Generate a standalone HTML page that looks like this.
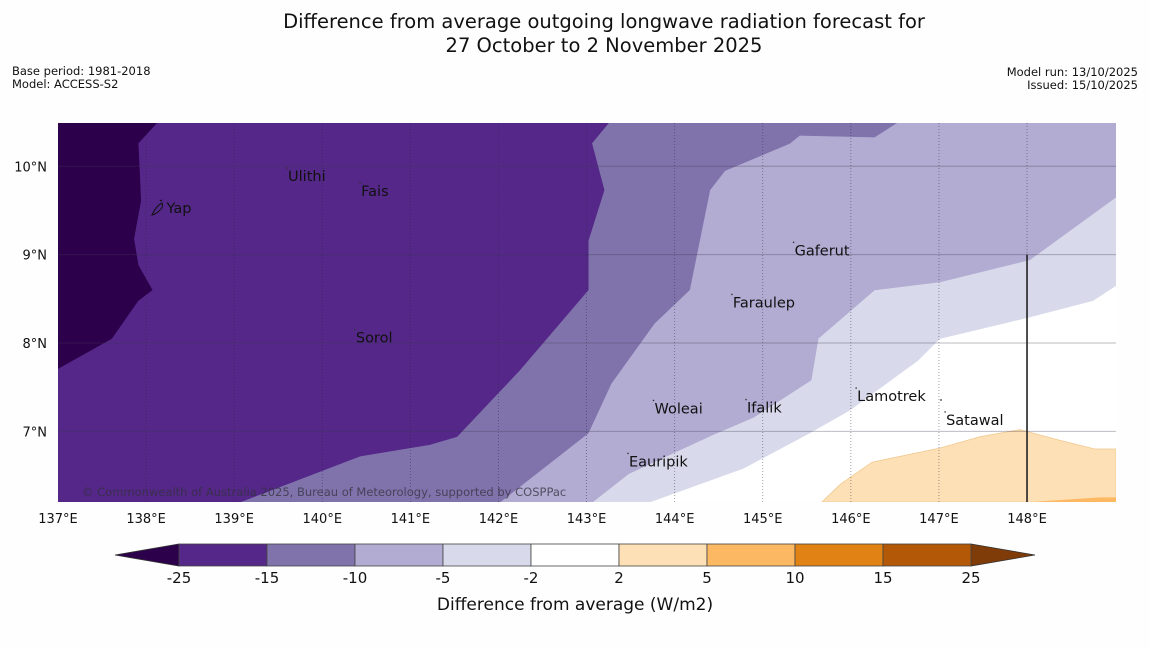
<!DOCTYPE html>
<html><head><meta charset="utf-8">
<style>
body{margin:0;background:#fefefe;width:1150px;height:644px;overflow:hidden;font-family:"Liberation Sans","DejaVu Sans",sans-serif;}
svg text{font-family:"DejaVu Sans","Liberation Sans",sans-serif;}
</style></head>
<body>
<svg id="chart" width="1150" height="644" viewBox="0 0 1150 644" xmlns="http://www.w3.org/2000/svg">
<text x="604" y="28" font-size="19.5" text-anchor="middle" fill="#111">Difference from average outgoing longwave radiation forecast for</text>
<text x="604" y="52" font-size="19.5" text-anchor="middle" fill="#111">27 October to 2 November 2025</text>
<text x="12" y="75" font-size="11.5" fill="#111">Base period: 1981-2018</text>
<text x="12" y="88" font-size="11.5" fill="#111">Model: ACCESS-S2</text>
<text x="1138" y="76" font-size="11.5" text-anchor="end" fill="#111">Model run: 13/10/2025</text>
<text x="1138" y="89" font-size="11.5" text-anchor="end" fill="#111">Issued: 15/10/2025</text>
<g id="map"></g>
<g id="cbar"></g>
<text x="575" y="610" font-size="17" text-anchor="middle" fill="#111">Difference from average (W/m2)</text>
</svg>
<script>
const lonTicks=[137,138,139,140,141,142,143,144,145,146,147,148];
const latTicks=[7,8,9,10];
const levelLabels=["-25","-15","-10","-5","-2","2","5","10","15","25"];
const levelColors=["#542788","#8073ac","#b2abd2","#d8daeb","#ffffff","#fee0b6","#fdb863","#e08214","#b35806"];
const lowTipColor="#2d004b", highTipColor="#7f3b08";
// contour regions in lon/lat
const regionM2=[[137,10.49],[149.01,10.49],[149.01,8.65],[148.75,8.48],[147.98,8.28],[147.01,8.05],[146.76,7.80],[145.99,7.24],[145.55,6.99],[144.78,6.58],[143.72,6.2],[137,6.2]];
const regionM5=[[137,10.49],[149.01,10.49],[149.01,9.65],[148.03,8.94],[147.01,8.69],[146.27,8.60],[145.63,8.05],[145.55,7.58],[144.90,7.16],[144.41,6.95],[143.48,6.52],[143.07,6.2],[137,6.2]];
const regionM10=[[137,10.49],[146.52,10.49],[146.27,10.33],[145.42,10.35],[145.31,10.26],[144.57,9.95],[144.40,9.73],[144.17,8.60],[143.77,8.22],[143.28,7.54],[143.02,6.98],[142.70,6.73],[142.02,6.2],[137,6.2]];
const regionM15=[[137,10.49],[143.25,10.49],[143.06,10.26],[143.20,9.73],[143.02,9.16],[143.02,8.60],[142.24,7.69],[141.53,6.94],[141.22,6.85],[140.43,6.72],[139.07,6.2],[137,6.2]];
const regionM25=[[137,10.49],[138.12,10.49],[137.91,10.26],[137.94,9.61],[137.86,9.18],[137.91,8.88],[138.07,8.60],[137.91,8.48],[137.61,8.05],[137,7.71]];
const regionP2=[[145.67,6.2],[145.88,6.40],[146.24,6.65],[147.01,6.81],[147.47,6.94],[147.92,7.02],[148.37,6.90],[148.77,6.80],[149.01,6.80],[149.01,6.2]];
const regionP5=[[148.09,6.2],[148.83,6.25],[149.01,6.25],[149.01,6.2]];
const islandNames=["Yap","Ulithi","Fais","Gaferut","Faraulep","Sorol","Woleai","Ifalik","Lamotrek","Satawal","Eauripik"];
const islandLon=[138.22,139.60,140.43,145.35,144.65,140.37,143.76,144.81,146.06,147.07,143.47];
const islandLat=[9.62,9.98,9.81,9.14,8.55,8.15,7.35,7.36,7.49,7.22,6.75];

const NS="http://www.w3.org/2000/svg";
const X0=58,X1=1116,Y0=123,Y1=502;
const LON0=137,LON1=149.01,LAT0=6.2,LAT1=10.49;
function xs(lon){return X0+(lon-LON0)/(LON1-LON0)*(X1-X0);}
function ys(lat){return Y1-(lat-LAT0)/(LAT1-LAT0)*(Y1-Y0);}
function mk(tag,attrs,parent){const e=document.createElementNS(NS,tag);for(const k in attrs)e.setAttribute(k,attrs[k]);parent.appendChild(e);return e;}
const map=document.getElementById('map');
const cl=mk('clipPath',{id:'clip'},map);mk('rect',{x:X0,y:Y0,width:X1-X0,height:Y1-Y0},cl);
const g=mk('g',{'clip-path':'url(#clip)'},map);
const bg=mk('rect',{x:X0,y:Y0,width:X1-X0,height:Y1-Y0,fill:'#ffffff'},g);


function poly(pts,fill,name,stroke){
  const p=mk('polygon',{points:pts.map(q=>xs(q[0]).toFixed(1)+','+ys(q[1]).toFixed(1)).join(' '),fill:fill,stroke:stroke||fill,'stroke-width':stroke?0.8:0.5},g);
  
  
}
poly(regionM2,levelColors[3],'region-minus2-to-minus5');
poly(regionM5,levelColors[2],'region-minus5-to-minus10');
poly(regionM10,levelColors[1],'region-minus10-to-minus15');
poly(regionM15,levelColors[0],'region-minus15-to-minus25');
poly(regionM25,lowTipColor,'region-below-minus25');
poly(regionP2,levelColors[5],'region-plus2-to-plus5','#f0c890');
poly(regionP5,levelColors[6],'region-plus5-to-plus10');
// gridlines
lonTicks.slice(1).forEach(l=>{
  const ln=mk('line',{x1:xs(l),x2:xs(l),y1:Y0,y2:Y1,stroke:'rgba(40,40,60,0.55)','stroke-width':0.8,'stroke-dasharray':'1,2'},g);
  
  
});
latTicks.forEach(l=>{
  const ln=mk('line',{x1:X0,x2:X1,y1:ys(l),y2:ys(l),stroke:'rgba(60,60,80,0.35)','stroke-width':1},g);
  
  
});
const vline=mk('line',{x1:xs(148),x2:xs(148),y1:ys(9),y2:Y1,stroke:'#222','stroke-width':1.6},g);


// Yap island shape
const yap=mk('path',{d:'M152,215 q4,-9 10,-12 q2,4 -3,8 q-3,3 -7,4z M160,201 l2,-1',fill:'none',stroke:'#111','stroke-width':1},g);


islandNames.forEach((n,i)=>{
  if(i>0){
    const d=mk('circle',{cx:xs(islandLon[i]),cy:ys(islandLat[i]),r:0.8,fill:'#333'},g);
    
    
  }
  const t=mk('text',{x:xs(islandLon[i])+1,y:ys(islandLat[i])+13,'font-size':14.5,fill:'#111'},g);
  t.textContent=n;
  
  
});
const dotL=mk('circle',{cx:941,cy:400,r:0.9,fill:'#333'},g);


const cp=mk('text',{x:82,y:496,'font-size':11.5,fill:'rgba(50,50,60,0.75)'},g);
cp.textContent='© Commonwealth of Australia 2025, Bureau of Meteorology, supported by COSPPac';


// tick labels
lonTicks.forEach(l=>{
  const t=mk('text',{x:xs(l),y:523,'font-size':13,'text-anchor':'middle',fill:'#111'},map);
  t.textContent=l+'°E';
  
  
});
latTicks.forEach(l=>{
  const t=mk('text',{x:47,y:ys(l)+5,'font-size':13,'text-anchor':'end',fill:'#111'},map);
  t.textContent=l+'°N';
  
  
});
// colorbar
const cb=document.getElementById('cbar');
const CX0=179,CW=88,CY=544,CH=22;
const lt=mk('polygon',{points:`115,${CY+CH/2} ${CX0},${CY} ${CX0},${CY+CH}`,fill:lowTipColor,stroke:'#333','stroke-width':0.8},cb);


const xe=CX0+CW*levelColors.length;
const ht=mk('polygon',{points:`${xe},${CY} ${xe+64},${CY+CH/2} ${xe},${CY+CH}`,fill:highTipColor,stroke:'#333','stroke-width':0.8},cb);


levelColors.forEach((c,i)=>{
  const r=mk('rect',{x:CX0+i*CW,y:CY,width:CW,height:CH,fill:c,stroke:'#444','stroke-width':0.8},cb);
  
  
});
levelLabels.forEach((s,i)=>{
  const t=mk('text',{x:CX0+i*CW,y:583,'font-size':15,'text-anchor':'middle',fill:'#111'},cb);
  t.textContent=s;
  
  
});
</script>
</body></html>
